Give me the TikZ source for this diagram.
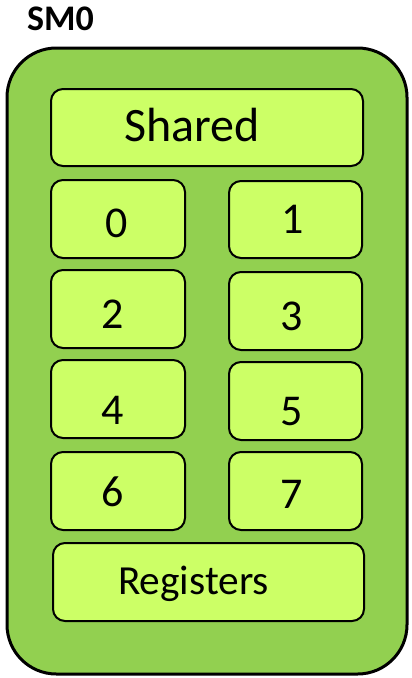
\documentclass[tikz,border=0pt]{standalone}
\usepackage{fontspec}
\setmainfont{Carlito}
\definecolor{outergreen}{HTML}{92D050}
\definecolor{innergreen}{HTML}{CCFF66}
\begin{document}
\begin{tikzpicture}[x=0.75pt,y=-0.75pt,
  smbox/.style={draw=black,line width=2.25pt,fill=outergreen,rounded corners=37pt,inner sep=0pt,outer sep=0pt},
  unitbox/.style={draw=black,line width=1.5pt,fill=innergreen,rounded corners=9pt,inner sep=0pt,outer sep=0pt},
  lbl/.style={anchor=base,inner sep=0pt,text=black}]
\useasboundingbox (0,0) rectangle (411,678);
\node[smbox,minimum width=300pt,minimum height=469.5pt] (sm) at (207,361) {};
\node[lbl,font=\fontsize{27}{30}\selectfont\bfseries] (title) at (60.5,30) {SM0};
\node[unitbox,minimum width=234pt,minimum height=57.75pt] (shared) at (207,127.5) {};
\node[lbl,font=\fontsize{36}{40}\selectfont] (tshared) at (192,141) {Shared};
\node[unitbox,minimum width=100.5pt,minimum height=58.5pt] (b0) at (118,219) {};
\node[unitbox,minimum width=99.75pt,minimum height=57.75pt] (b1) at (295.5,219.5) {};
\node[unitbox,minimum width=100.5pt,minimum height=58.5pt] (b2) at (118,309) {};
\node[unitbox,minimum width=99.75pt,minimum height=58.5pt] (b3) at (295.5,311) {};
\node[unitbox,minimum width=100.5pt,minimum height=58.5pt] (b4) at (118,399) {};
\node[unitbox,minimum width=99.75pt,minimum height=58.5pt] (b5) at (295.5,401) {};
\node[unitbox,minimum width=100.5pt,minimum height=58.5pt] (b6) at (118,491) {};
\node[unitbox,minimum width=99.75pt,minimum height=58.5pt] (b7) at (295.5,491) {};
\node[unitbox,minimum width=233.25pt,minimum height=58.5pt] (regs) at (208.5,582) {};
\begin{scope}[every node/.style={lbl,font=\fontsize{33}{36}\selectfont}]
\node (t0) at (117,237) {0};
\node (t1) at (293,233) {1};
\node (t2) at (113,328) {2};
\node (t3) at (292,330) {3};
\node (t4) at (113,424) {4};
\node (t5) at (292,425) {5};
\node (t6) at (113,506) {6};
\node (t7) at (292,508) {7};
\end{scope}
\node[lbl,font=\fontsize{31}{34}\selectfont] (tregs) at (193.5,594) {Registers};
\end{tikzpicture}
\end{document}
